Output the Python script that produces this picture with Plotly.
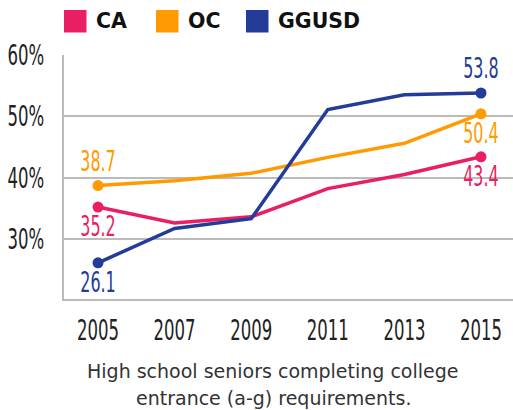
import plotly.graph_objects as go

years = [2005, 2007, 2009, 2011, 2013, 2015]
ca = [35.2, 32.6, 33.6, 38.2, 40.5, 43.4]
oc = [38.7, 39.5, 40.7, 43.3, 45.6, 50.4]
ggusd = [26.1, 31.7, 33.3, 51.1, 53.5, 53.8]

series_names = ["CA", "OC", "GGUSD"]
series_values = [ca, oc, ggusd]
colors = ["#E91E63", "#FF9A00", "#223C97"]
# label position for first / last point of each series
first_pos = ["bottom center", "top center", "bottom center"]
last_pos = ["bottom center", "bottom center", "top center"]

y_ticks = [30, 40, 50, 60]
y_tick_labels = ["30%", "40%", "50%", "60%"]
caption_lines = ["High school seniors completing college", "entrance (a-g) requirements."]

num_font = "DejaVu Sans Condensed, DejaVu Sans, sans-serif"

W, H = 513, 410
ml, mr, mt, mb = 64, 0, 55, 111
pw, ph = W - ml - mr, H - mt - mb


def px_to_paper_x(px):
    return (px - ml) / pw


def px_to_paper_y(py):
    return (H - mb - py) / ph


fig = go.Figure()
for name, vals, col, fp, lp in zip(series_names, series_values, colors, first_pos, last_pos):
    fig.add_trace(go.Scatter(
        x=years, y=vals, name=name,
        mode="lines",
        line=dict(color=col, width=3.5),
        hoverinfo="skip", showlegend=False,
    ))
    fig.add_trace(go.Scatter(
        x=[years[0], years[-1]], y=[vals[0], vals[-1]],
        mode="markers+text",
        marker=dict(color=col, size=11),
        text=[f"{vals[0]:.1f}", f"{vals[-1]:.1f}"],
        textposition=[fp, lp],
        textfont=dict(family=num_font, size=28, color=col),
        showlegend=False, hoverinfo="skip", cliponaxis=False,
    ))

shapes = []
annotations = []
legend_x = [64, 156, 246]
for name, col, lx in zip(series_names, colors, legend_x):
    shapes.append(dict(type="rect", xref="paper", yref="paper",
                       x0=px_to_paper_x(lx), x1=px_to_paper_x(lx + 22.5),
                       y0=px_to_paper_y(32.5), y1=px_to_paper_y(10),
                       fillcolor=col, line=dict(width=0)))
    annotations.append(dict(xref="paper", yref="paper",
                            x=px_to_paper_x(lx + 30), y=px_to_paper_y(21.5),
                            xanchor="left", yanchor="middle", showarrow=False,
                            text=f"<b>{name}</b>",
                            font=dict(family="DejaVu Sans, sans-serif", size=20.5, color="#111")))

for line, cy in zip(caption_lines, [371, 398]):
    annotations.append(dict(xref="paper", yref="paper",
                            x=px_to_paper_x(273), y=px_to_paper_y(cy),
                            xanchor="center", yanchor="middle", showarrow=False,
                            text=line,
                            font=dict(family="DejaVu Sans, sans-serif", size=19, color="#333")))

fig.update_layout(
    width=W, height=H,
    margin=dict(l=ml, r=mr, t=mt, b=mb, autoexpand=False),
    paper_bgcolor="white", plot_bgcolor="white",
    shapes=shapes, annotations=annotations,
    showlegend=False,
)
fig.update_xaxes(
    range=[2004.112, 2015.836],
    tickvals=years, ticktext=[str(y) for y in years],
    showgrid=False, zeroline=False,
    showline=True, linecolor="#BBBBBB", linewidth=2,
    ticks="", ticklabelstandoff=4, ticklabeloverflow="allow",
    tickfont=dict(family=num_font, size=29, color="#222"),
)
fig.update_yaxes(
    range=[20.2, 60.0],
    tickvals=y_ticks, ticktext=y_tick_labels,
    showgrid=True, gridcolor="#BBBBBB", gridwidth=2,
    zeroline=False,
    showline=True, linecolor="#BBBBBB", linewidth=2,
    ticks="", ticklabelstandoff=12, ticklabeloverflow="allow",
    tickfont=dict(family=num_font, size=29, color="#222"),
)

# remove default page margin and narrow the numeric labels to mimic the condensed face
post = """
document.body.style.margin='0';
document.body.style.overflow='hidden';
function squeeze(){
  var ref = document.querySelector('.xtick text');
  if(!ref) return;
  var k = 42 / ref.getComputedTextLength();
  document.querySelectorAll('.xtick text, .ytick text, .textpoint text').forEach(function(t){
    var w = t.getComputedTextLength();
    t.setAttribute('textLength', (w * k).toFixed(2));
    t.setAttribute('lengthAdjust', 'spacingAndGlyphs');
  });
}
squeeze();
"""

fig.write_html("out.html", post_script=post, config={"displayModeBar": False})
